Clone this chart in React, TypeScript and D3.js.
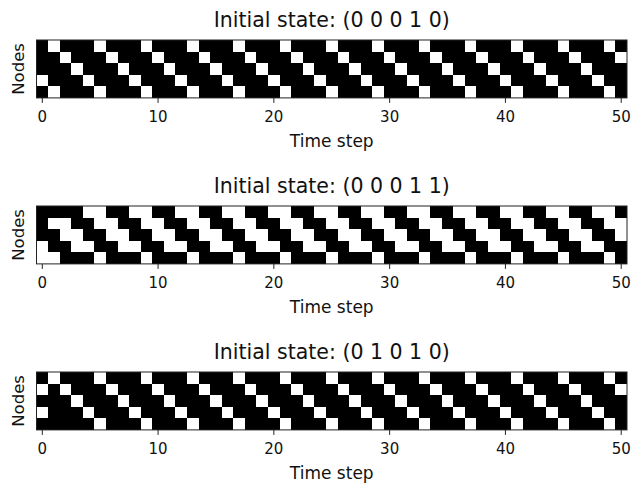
import React from "react";
import * as d3 from "d3";

const TITLES = ["Initial state: (0 0 0 1 0)", "Initial state: (0 0 0 1 1)", "Initial state: (0 1 0 1 0)"];
const X_TICKS = [0, 10, 20, 30, 40, 50];
const X_LABEL = "Time step";
const Y_LABEL = "Nodes";

// each string: one node (row), 51 time steps; 1 = white (on), 0 = black (off)
const STATES_A = [
  "0100 0100 0100 0100 0100 0100 0100 0100 0100 0100 0100 0100 010",
  "0010 0010 0010 0010 0010 0010 0010 0010 0010 0010 0010 0010 001",
  "0001 0001 0001 0001 0001 0001 0001 0001 0001 0001 0001 0001 000",
  "1000 1000 1000 1000 1000 1000 1000 1000 1000 1000 1000 1000 100",
  "0100 0100 0100 0100 0100 0100 0100 0100 0100 0100 0100 0100 010",
];
const STATES_B = [
  "0000 1100 1100 1100 1100 1100 1100 1100 1100 1100 1100 1100 110",
  "0110 0110 0110 0110 0110 0110 0110 0110 0110 0110 0110 0110 011",
  "0011 0011 0011 0011 0011 0011 0011 0011 0011 0011 0011 0011 001",
  "1001 1001 1001 1001 1001 1001 1001 1001 1001 1001 1001 1001 100",
  "1100 0100 0100 0100 0100 0100 0100 0100 0100 0100 0100 0100 010",
];
const STATES_C = [
  "0100 0100 0100 0100 0100 0100 0100 0100 0100 0100 0100 0100 010",
  "1010 0010 0010 0010 0010 0010 0010 0010 0010 0010 0010 0010 001",
  "0001 0001 0001 0001 0001 0001 0001 0001 0001 0001 0001 0001 000",
  "1000 1000 1000 1000 1000 1000 1000 1000 1000 1000 1000 1000 100",
  "0000 0100 0100 0100 0100 0100 0100 0100 0100 0100 0100 0100 010",
];

const PANELS = [STATES_A, STATES_B, STATES_C];

const W = 631;
const H = 483;
const LEFT = 36.5;
const RIGHT = 627;
const PANEL_TOP = 40;
const PANEL_STEP = 166;
const FONT = "'DejaVu Sans', sans-serif";

function parse(rows: string[]): number[][] {
  return rows.map((r) => r.replace(/ /g, "").split("").map(Number));
}

function Panel({ rows, title, top }: { rows: string[]; title: string; top: number }) {
  const grid = parse(rows);
  const nT = grid[0].length;
  const nN = grid.length;
  const cell = (RIGHT - LEFT) / nT;
  const x = d3.scaleLinear().domain([-0.5, nT - 0.5]).range([LEFT, RIGHT]);
  const y = d3.scaleLinear().domain([-0.5, nN - 0.5]).range([top, top + cell * nN]);
  const bottom = y(nN - 0.5);
  const cx = (LEFT + RIGHT) / 2;
  return (
    <g>
      <text x={cx} y={top - 13} textAnchor="middle" fontSize={20.5} fontFamily={FONT} fill="#111">
        {title}
      </text>
      <g shapeRendering="crispEdges">
        {grid.map((row, i) =>
          row.map((v, t) => (
            <rect
              key={`${i}-${t}`}
              x={x(t - 0.5)}
              y={y(i - 0.5)}
              width={x(t + 0.5) - x(t - 0.5)}
              height={y(i + 0.5) - y(i - 0.5)}
              fill={v ? "#ffffff" : "#000000"}
            />
          ))
        )}
      </g>
      <rect x={LEFT} y={top} width={RIGHT - LEFT} height={bottom - top} fill="none" stroke="#222" strokeWidth={1} />
      {X_TICKS.map((t) => (
        <g key={t}>
          <line x1={x(t)} x2={x(t)} y1={bottom} y2={bottom + 5} stroke="#222" strokeWidth={1} />
          <text x={x(t)} y={bottom + 24} textAnchor="middle" fontSize={15} fontFamily={FONT} fill="#111">
            {t}
          </text>
        </g>
      ))}
      <text x={cx} y={bottom + 49} textAnchor="middle" fontSize={17} fontFamily={FONT} fill="#111">
        {X_LABEL}
      </text>
      <text
        transform={`translate(${LEFT - 13},${(top + bottom) / 2}) rotate(-90)`}
        textAnchor="middle"
        fontSize={16.5}
        fontFamily={FONT}
        fill="#111"
      >
        {Y_LABEL}
      </text>
    </g>
  );
}

export default function App() {
  return (
    <svg width={W} height={H} style={{ position: "absolute", left: 0, top: 0, background: "#fff" }}>
      {PANELS.map((rows, k) => (
        <Panel key={k} rows={rows} title={TITLES[k]} top={PANEL_TOP + k * PANEL_STEP} />
      ))}
    </svg>
  );
}
